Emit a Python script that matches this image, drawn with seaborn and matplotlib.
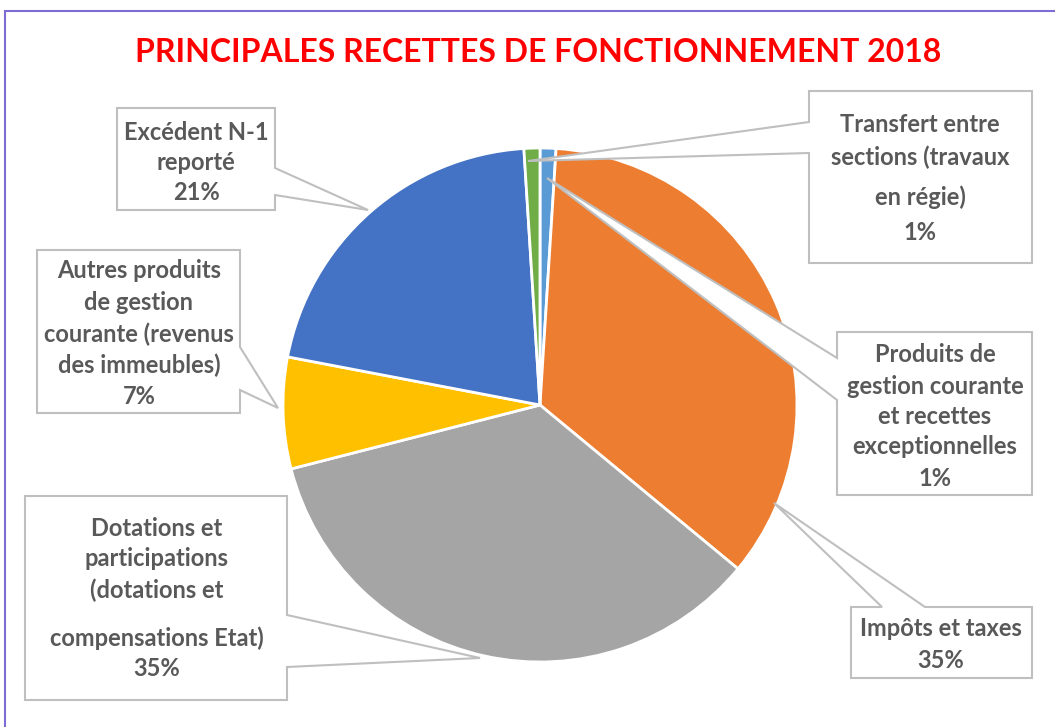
import matplotlib
matplotlib.use("Agg")
import matplotlib.pyplot as plt
import seaborn as sns
from matplotlib.patches import Polygon, Rectangle

# ——— Data ———
labels = ["Produits de gestion courante et recettes exceptionnelles",
          "Impôts et taxes",
          "Dotations et participations (dotations et compensations Etat)",
          "Autres produits de gestion courante (revenus des immeubles)",
          "Excédent N-1 reporté",
          "Transfert entre sections (travaux en régie)"]
shares = [1, 35, 35, 7, 21, 1]
colors = ["#5B9BD5", "#ED7D31", "#A5A5A5", "#FFC000", "#4472C4", "#70AD47"]

# callout text lines (as shown in the boxes)
label_lines = [
    ["Produits de", "gestion courante", "et recettes", "exceptionnelles", "1%"],
    ["Impôts et taxes", "35%"],
    ["Dotations et", "participations", "(dotations et", "compensations Etat)", "35%"],
    ["Autres produits", "de gestion", "courante (revenus", "des immeubles)", "7%"],
    ["Excédent N-1", "reporté", "21%"],
    ["Transfert entre", "sections (travaux", "en régie)", "1%"],
]

# ——— Layout (pixel coordinates, y measured from top) ———
W, H = 1055, 727
# box (x0, y0, x1, y1), notch side, notch span, tip, text x, line y positions
callouts = [
    ((837, 332, 1032, 495), "left", (358, 400), (547, 178), 935, [355, 386, 416, 447, 479]),
    ((851, 607, 1032, 678), "top", (882, 925), (774, 503), 941, [629, 661]),
    ((25, 496, 287, 700), "right", (615, 667), (480, 658), 157, [528, 559, 590, 638, 669]),
    ((37, 250, 240, 413), "right", (347, 390), (278, 408), 139, [271, 302, 334, 365, 396]),
    ((117, 108, 275, 210), "right", (168, 195), (368, 210), 196, [132, 163, 193]),
    ((809, 91, 1032, 263), "left", (122, 153), (528, 161), 920, [125, 157, 197, 232]),
]

sns.set_style("white")
plt.rcParams["font.family"] = ["Lato", "DejaVu Sans"]

fig = plt.figure(figsize=(W / 100, H / 100), dpi=100)
ax = fig.add_axes([0, 0, 1, 1])

def Y(y):
    return H - y

ax.pie(shares, colors=colors, startangle=90, counterclock=False,
       center=(540, Y(405)), radius=257,
       wedgeprops=dict(edgecolor="white", linewidth=2))
ax.set_xlim(0, W)
ax.set_ylim(0, H)
ax.set_aspect("auto")
ax.axis("off")


def callout_poly(box, side, span, tip):
    x0, y0, x1, y1 = box
    a, b = span
    if side == "left":
        pts = [(x0, y0), (x1, y0), (x1, y1), (x0, y1), (x0, b), tip, (x0, a)]
    elif side == "right":
        pts = [(x0, y0), (x1, y0), (x1, a), tip, (x1, b), (x1, y1), (x0, y1)]
    else:  # top
        pts = [(x0, y0), (a, y0), tip, (b, y0), (x1, y0), (x1, y1), (x0, y1)]
    return [(px, Y(py)) for px, py in pts]


for (box, side, span, tip, tx, ys), lines in zip(callouts, label_lines):
    ax.add_patch(Polygon(callout_poly(box, side, span, tip), closed=True,
                         facecolor="white", edgecolor="#BFBFBF", linewidth=1.5, zorder=3))
    for line, ly in zip(lines, ys):
        ax.text(tx, Y(ly), line, ha="center", va="center", fontsize=17,
                fontweight="bold", color="#595959", zorder=4)

# title
fig.text(538 / W, 1 - 52 / H, "PRINCIPALES RECETTES DE FONCTIONNEMENT 2018",
         ha="center", va="center", fontsize=23, fontweight="bold", color="#FF0000")

# chart area border
fig.patches.append(Rectangle((5 / W, -0.05), 1.1, 1 - 11 / H + 0.05,
                             transform=fig.transFigure, fill=False,
                             edgecolor="#7F6BD6", linewidth=1.5))

fig.savefig("out.png", dpi=100)
